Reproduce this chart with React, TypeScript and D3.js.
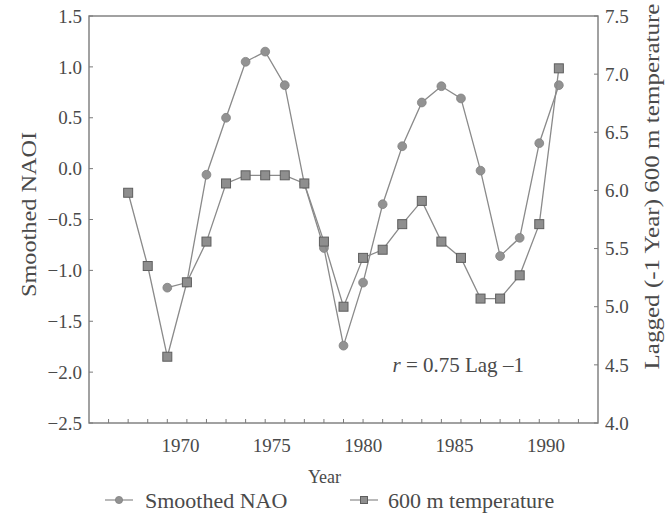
import React from 'react';
import * as d3 from 'd3';

// Smoothed NAO index (left axis), one value per year
const naoYears = [1969, 1970, 1971, 1972, 1973, 1974, 1975, 1976, 1977, 1978, 1979, 1980, 1981, 1982, 1983, 1984, 1985, 1986, 1987, 1988, 1989];
const naoValues = [-1.17, -1.12, -0.06, 0.5, 1.05, 1.15, 0.82, -0.15, -0.78, -1.74, -1.12, -0.35, 0.22, 0.65, 0.81, 0.69, -0.02, -0.86, -0.68, 0.25, 0.82];

// Lagged (-1 year) 600 m temperature (right axis)
const tempYears = [1967, 1968, 1969, 1970, 1971, 1972, 1973, 1974, 1975, 1976, 1977, 1978, 1979, 1980, 1981, 1982, 1983, 1984, 1985, 1986, 1987, 1988, 1989];
const tempValues = [5.98, 5.35, 4.57, 5.21, 5.56, 6.06, 6.13, 6.13, 6.13, 6.06, 5.56, 5.0, 5.42, 5.49, 5.71, 5.91, 5.56, 5.42, 5.07, 5.07, 5.27, 5.71, 7.05];

const yearLabels = [1970, 1975, 1980, 1985, 1990];
const leftTicks = [1.5, 1.0, 0.5, 0.0, -0.5, -1.0, -1.5, -2.0, -2.5];
const rightTicks = [7.5, 7.0, 6.5, 6.0, 5.5, 5.0, 4.5, 4.0];

const W = 665;
const H = 514;
const FONT = '"Liberation Serif", "Times New Roman", serif';
const TEXT = '#4a4a4a';
const LINE = '#8a8a8a';

const margin = { left: 89, right: 67, top: 16, bottom: 91 };

const fmt = (v: number) => d3.format('.1f')(v).replace('-', '\u2212');

export default function App() {
  const x = d3.scaleLinear().domain([1965, 1991]).range([margin.left, W - margin.right]);
  // year labels in the source figure sit on their own, slightly tighter spacing
  const xLabel = d3.scaleLinear().domain([1965, 1992.85]).range([margin.left, W - margin.right]);
  const yL = d3.scaleLinear().domain([-2.5, 1.5]).range([H - margin.bottom, margin.top]);
  const yR = d3.scaleLinear().domain([4, 7.5]).range([H - margin.bottom, margin.top]);

  const nao = naoYears.map((yr, i) => ({ yr, v: naoValues[i] }));
  const temp = tempYears.map((yr, i) => ({ yr, v: tempValues[i] }));

  const naoLine = d3.line<{ yr: number; v: number }>().x(d => x(d.yr)).y(d => yL(d.v));
  const tempLine = d3.line<{ yr: number; v: number }>().x(d => x(d.yr)).y(d => yR(d.v));

  const [x0, x1] = x.range();
  const [yb, yt] = yL.range();
  const minorYears = d3.range(1966, 1991);

  const sq = 9;

  return (
    <>
      <style>{'body{margin:0}'}</style>
      <svg width={W} height={H} style={{ display: 'block', background: '#fff' }} fontFamily={FONT}>
        {/* frame */}
        <rect x={x0} y={yt} width={x1 - x0} height={yb - yt} fill="none" stroke="#7a7a7a" strokeWidth={1.4} />

        {/* x ticks, one per year */}
        {minorYears.map(yr => (
          <line key={yr} x1={x(yr)} x2={x(yr)} y1={yb} y2={yb - 4} stroke="#7a7a7a" strokeWidth={1} />
        ))}
        {yearLabels.map(yr => (
          <text key={yr} x={xLabel(yr)} y={yb + 29} textAnchor="middle" fontSize={19} fill={TEXT}>{yr}</text>
        ))}
        <text x={(x0 + x1) / 2 - 19} y={yb + 60} textAnchor="middle" fontSize={18} fill={TEXT}>Year</text>

        {/* left axis */}
        {leftTicks.map(v => (
          <g key={v}>
            <line x1={x0} x2={x0 + 4} y1={yL(v)} y2={yL(v)} stroke="#7a7a7a" />
            <text x={x0 - 7} y={yL(v)} dy="0.35em" textAnchor="end" fontSize={19} fill={TEXT}>{fmt(v)}</text>
          </g>
        ))}
        <text transform={`translate(36,${(yt + yb) / 2 - 5}) rotate(-90)`} textAnchor="middle" fontSize={21}
          fill={TEXT} textLength={165} lengthAdjust="spacingAndGlyphs">Smoothed NAOI</text>

        {/* right axis */}
        {rightTicks.map(v => (
          <g key={v}>
            <line x1={x1} x2={x1 - 4} y1={yR(v)} y2={yR(v)} stroke="#7a7a7a" />
            <text x={x1 + 7} y={yR(v)} dy="0.35em" textAnchor="start" fontSize={19} fill={TEXT}>{fmt(v)}</text>
          </g>
        ))}
        <text transform={`translate(659,${(yt + yb) / 2 - 33}) rotate(-90)`} textAnchor="middle" fontSize={20}
          fill={TEXT} textLength={366} lengthAdjust="spacingAndGlyphs">Lagged (-1 Year) 600 m temperature</text>

        {/* NAO series */}
        <path d={naoLine(nao) ?? ''} fill="none" stroke={LINE} strokeWidth={1.3} />
        {nao.map(d => (
          <circle key={d.yr} cx={x(d.yr)} cy={yL(d.v)} r={4.4} fill="#929292" stroke="#808080" strokeWidth={0.8} />
        ))}

        {/* temperature series */}
        <path d={tempLine(temp) ?? ''} fill="none" stroke={LINE} strokeWidth={1.3} />
        {temp.map(d => (
          <rect key={d.yr} x={x(d.yr) - sq / 2} y={yR(d.v) - sq / 2} width={sq} height={sq}
            fill="#8e8e8e" stroke="#5e5e5e" strokeWidth={1} />
        ))}

        {/* correlation note */}
        <text x={x(1980.5)} y={yL(-2.0)} fontSize={21} fill={TEXT}>
          <tspan fontStyle="italic">r</tspan> = 0.75 Lag {'\u2013'}1
        </text>

        {/* legend */}
        <g transform="translate(105,500)">
          <line x1={0} x2={28} y1={0} y2={0} stroke={LINE} strokeWidth={1.2} />
          <circle cx={14} cy={0} r={3.6} fill="#929292" stroke="#808080" strokeWidth={0.8} />
          <text x={40} y={0} dy="0.35em" fontSize={22} fill={TEXT}>Smoothed NAO</text>
        </g>
        <g transform="translate(350,500)">
          <line x1={0} x2={28} y1={0} y2={0} stroke={LINE} strokeWidth={1.2} />
          <rect x={10.5} y={-3.5} width={7} height={7} fill="#8e8e8e" stroke="#5e5e5e" strokeWidth={1} />
          <text x={38} y={0} dy="0.35em" fontSize={22} fill={TEXT}>600 m temperature</text>
        </g>
      </svg>
    </>
  );
}
